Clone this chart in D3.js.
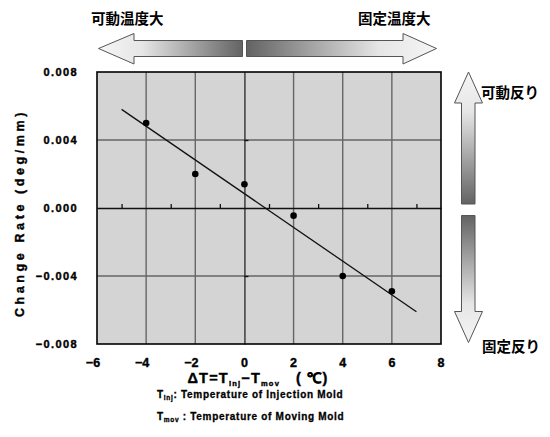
<!DOCTYPE html>
<html>
<head>
<meta charset="utf-8">
<script src="https://cdn.jsdelivr.net/npm/d3@7"></script>
<style>
  html, body { margin: 0; padding: 0; background: #fff; }
  svg { display: block; }
</style>
</head>
<body>
<svg id="chart" width="550" height="437"></svg>
<script>
// Temperature difference between molds (°C) and measured warp change rate
const deltaT = [-4, -2, 0, 2, 4, 6];
const changeRate = [0.0050, 0.0020, 0.0014, -0.00045, -0.0040, -0.0049];
// Linear fit drawn across the measured range
const fitX = [-5, 7];
const fitY = [0.0058, -0.0061];
// Axis ticks
const xTicks = [-6, -4, -2, 0, 2, 4, 6, 8];
const yTicks = [0.008, 0.004, 0.000, -0.004, -0.008];
const yTickLabels = ["0.008", "0.004", "0.000", "\u22120.004", "\u22120.008"];
const xMinorTicks = [-5, -3, -1, 1, 3, 5, 7];

const svg = d3.select("#chart");
const plotLeft = 97, plotRight = 441, plotTop = 72, plotBottom = 344;
const x = d3.scaleLinear().domain([-6, 8]).range([plotLeft, plotRight]);
const y = d3.scaleLinear().domain([-0.008, 0.008]).range([plotBottom, plotTop]);

const numFont = "'Liberation Sans', Arial, sans-serif";
const cjkFont = "'Noto Sans CJK JP', sans-serif";

// Heavier weight for the Latin labels
function heavy(sel, w) {
  return sel.attr("stroke", "#000").attr("stroke-width", w).attr("paint-order", "stroke");
}

// Plot area background
svg.append("rect")
  .attr("x", plotLeft).attr("y", plotTop)
  .attr("width", plotRight - plotLeft).attr("height", plotBottom - plotTop)
  .attr("fill", "#d4d4d4");

// Grid lines
svg.append("g").selectAll("line")
  .data(xTicks.filter(v => v > -6 && v < 8 && v !== 0))
  .join("line")
  .attr("x1", d => x(d)).attr("x2", d => x(d))
  .attr("y1", plotTop).attr("y2", plotBottom)
  .attr("stroke", "#666").attr("stroke-width", 1.4);
svg.append("g").selectAll("line")
  .data(yTicks.filter(v => Math.abs(v) > 1e-9 && Math.abs(v) < 0.008))
  .join("line")
  .attr("x1", plotLeft).attr("x2", plotRight)
  .attr("y1", d => y(d)).attr("y2", d => y(d))
  .attr("stroke", "#666").attr("stroke-width", 1.4);

// Vertical line at ΔT = 0 with small ticks
const yZeroAxis = svg.append("g")
  .attr("transform", `translate(${x(0)},0)`)
  .call(d3.axisRight(y).tickValues([0.004, -0.004]).tickSize(4).tickSizeOuter(0).tickFormat(""));
yZeroAxis.select(".domain").attr("stroke", "#333").attr("stroke-width", 1.4);
yZeroAxis.selectAll(".tick line").attr("stroke", "#111").attr("stroke-width", 1.4);

// Horizontal zero line with minor ticks
const xZeroAxis = svg.append("g")
  .attr("transform", `translate(0,${y(0)})`)
  .call(d3.axisTop(x).tickValues(xMinorTicks).tickSize(4).tickSizeOuter(0).tickFormat(""));
xZeroAxis.select(".domain").attr("stroke", "#111").attr("stroke-width", 1.6);
xZeroAxis.selectAll(".tick line").attr("stroke", "#111").attr("stroke-width", 1.3);

// Frame
svg.append("rect")
  .attr("x", plotLeft).attr("y", plotTop)
  .attr("width", plotRight - plotLeft).attr("height", plotBottom - plotTop)
  .attr("fill", "none").attr("stroke", "#000").attr("stroke-width", 1.6);

// Fit line
svg.append("path")
  .datum(fitX.map((v, i) => [v, fitY[i]]))
  .attr("d", d3.line().x(d => x(d[0])).y(d => y(d[1])))
  .attr("stroke", "#111").attr("stroke-width", 1.3).attr("fill", "none");

// Data points
svg.append("g").selectAll("circle")
  .data(deltaT.map((v, i) => [v, changeRate[i]]))
  .join("circle")
  .attr("cx", d => x(d[0])).attr("cy", d => y(d[1]))
  .attr("r", 3.3).attr("fill", "#000");

// Y tick labels
heavy(svg.append("g").selectAll("text")
  .data(yTicks)
  .join("text")
  .attr("x", 78).attr("y", d => y(d))
  .attr("dy", "0.36em")
  .attr("text-anchor", "end")
  .attr("font-family", numFont).attr("font-weight", "bold")
  .attr("font-size", 11).attr("letter-spacing", 1.4)
  .text((d, i) => yTickLabels[i]), 0.4);

// X tick labels
heavy(svg.append("g").selectAll("text")
  .data(xTicks)
  .join("text")
  .attr("x", d => x(d) - (d < 0 ? 4 : 0)).attr("y", 367)
  .attr("text-anchor", "middle")
  .attr("font-family", numFont).attr("font-weight", "bold")
  .attr("font-size", 12.5)
  .text(d => d < 0 ? "\u2212" + Math.abs(d) : String(d)), 0.4);

// Y axis title
heavy(svg.append("text")
  .attr("transform", `translate(24,${(plotTop + plotBottom) / 2 + 5}) rotate(-90)`)
  .attr("text-anchor", "middle")
  .attr("font-family", numFont).attr("font-weight", "bold")
  .attr("font-size", 12.5).attr("letter-spacing", 3.6)
  .text("Change Rate (deg/mm)"), 0.4);

// X axis title with subscripts
const xt = heavy(svg.append("text")
  .attr("x", 258).attr("y", 383)
  .attr("text-anchor", "middle")
  .attr("font-family", numFont).attr("font-weight", "bold")
  .attr("font-size", 14.5).attr("letter-spacing", 1.2), 0.4);
xt.append("tspan").text("\u0394T=T");
xt.append("tspan").attr("font-size", 7.5).attr("dy", 3).text("inj");
xt.append("tspan").attr("dy", -3).text("\u2212T");
xt.append("tspan").attr("font-size", 7.5).attr("dy", 3).text("mov");
xt.append("tspan").attr("dy", -3).attr("dx", 16).text("( \u2103)");

// Legend notes
const notes = [
  { sub: "inj", text: ": Temperature of Injection Mold", y: 398 },
  { sub: "mov", text: " : Temperature of Moving Mold", y: 420 }
];
notes.forEach(n => {
  const t = heavy(svg.append("text")
    .attr("x", 157).attr("y", n.y)
    .attr("font-family", numFont).attr("font-weight", "bold")
    .attr("font-size", 10).attr("letter-spacing", 0.7), 0.3);
  t.append("tspan").text("T");
  t.append("tspan").attr("font-size", 6.5).attr("dy", 2).text(n.sub);
  t.append("tspan").attr("dy", -2).text(n.text);
});

// Gradients for direction arrows
const defs = svg.append("defs");
function grad(id, x1, y1, x2, y2, stops) {
  const g = defs.append("linearGradient").attr("id", id)
    .attr("x1", x1).attr("y1", y1).attr("x2", x2).attr("y2", y2);
  stops.forEach(s => g.append("stop").attr("offset", s[0]).attr("stop-color", s[1]));
}
const lightToDark = [[0, "#f5f5f5"], [0.3, "#e6e6e6"], [1, "#636363"]];
const darkToLight = [[0, "#636363"], [0.7, "#e6e6e6"], [1, "#f5f5f5"]];
grad("gLeft", 0, 0, 1, 0, lightToDark);
grad("gRight", 0, 0, 1, 0, darkToLight);
grad("gUp", 0, 0, 0, 1, lightToDark);
grad("gDown", 0, 0, 0, 1, darkToLight);

const arrowStroke = "#555";
// Left arrow (moving mold hotter)
svg.append("path")
  .attr("d", "M98.5,48.5 L134,33.5 L134,40.5 L242.5,40.5 L242.5,56.5 L134,56.5 L134,64 Z")
  .attr("fill", "url(#gLeft)").attr("stroke", arrowStroke).attr("stroke-width", 1);
// Right arrow (injection mold hotter)
svg.append("path")
  .attr("d", "M436.5,48.5 L403,33.5 L403,40.5 L246.5,40.5 L246.5,56.5 L403,56.5 L403,64 Z")
  .attr("fill", "url(#gRight)").attr("stroke", arrowStroke).attr("stroke-width", 1);
// Up arrow
svg.append("path")
  .attr("d", "M468.5,72 L482.5,103 L475,103 L475,204 L461.5,204 L461.5,103 L454.5,103 Z")
  .attr("fill", "url(#gUp)").attr("stroke", arrowStroke).attr("stroke-width", 1);
// Down arrow
svg.append("path")
  .attr("d", "M468.5,342.5 L482.5,311.5 L475,311.5 L475,215.5 L461.5,215.5 L461.5,311.5 L454.5,311.5 Z")
  .attr("fill", "url(#gDown)").attr("stroke", arrowStroke).attr("stroke-width", 1);

// Arrow captions
const captions = [
  { t: "可動温度大", x: 91, y: 19, anchor: "start" },
  { t: "固定温度大", x: 358, y: 19, anchor: "start" },
  { t: "可動反り", x: 481, y: 93, anchor: "start" },
  { t: "固定反り", x: 482, y: 347, anchor: "start" }
];
svg.append("g").selectAll("text")
  .data(captions)
  .join("text")
  .attr("x", d => d.x).attr("y", d => d.y)
  .attr("dy", "0.36em")
  .attr("text-anchor", d => d.anchor)
  .attr("font-family", cjkFont).attr("font-weight", "bold")
  .attr("font-size", 14.5)
  .text(d => d.t);
</script>
</body>
</html>
